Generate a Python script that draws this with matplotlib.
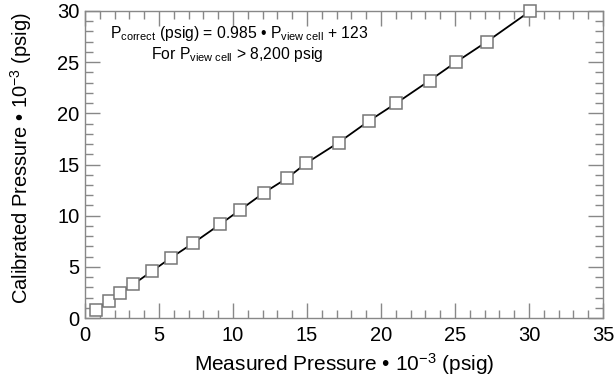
import numpy as np
import matplotlib
matplotlib.use("Agg")
import matplotlib.pyplot as plt
import matplotlib.transforms as mtransforms
from matplotlib.ticker import MultipleLocator

plt.rcParams["font.family"] = ["Liberation Sans", "DejaVu Sans"]
plt.rcParams["mathtext.fontset"] = "custom"
plt.rcParams["mathtext.rm"] = "Liberation Sans"
plt.rcParams["mathtext.it"] = "Liberation Sans:italic"

# measured vs calibrated pressure (x 10^-3 psig)
measured = [0.74, 1.60, 2.37, 3.26, 4.51, 5.81, 7.28, 9.13, 10.48, 12.10,
            13.64, 14.94, 17.13, 19.22, 21.03, 23.28, 25.06, 27.16, 30.09]
calibrated = [0.78, 1.69, 2.41, 3.29, 4.56, 5.89, 7.29, 9.16, 10.56, 12.25,
              13.65, 15.12, 17.14, 19.29, 20.99, 23.20, 25.00, 27.01, 30.00]

fig = plt.figure(figsize=(6.15, 3.79), dpi=100)
ax = fig.add_axes([0.1382, 0.1609, 0.8423, 0.8101])

ax.plot(measured, calibrated, "-", color="black", lw=1.3, zorder=2)
ax.plot(measured, calibrated, "s", ms=8, mfc="white", mec="#777777", mew=1.1,
        zorder=3, clip_on=False)

ax.set_xlim(0, 35)
ax.set_ylim(0, 30)
ax.xaxis.set_major_locator(MultipleLocator(5))
ax.xaxis.set_minor_locator(MultipleLocator(1))
ax.yaxis.set_major_locator(MultipleLocator(5))
ax.yaxis.set_minor_locator(MultipleLocator(1))
ax.tick_params(which="both", direction="in", top=True, right=True,
               color="#888888", width=1.0, labelsize=14.5)
ax.tick_params(which="major", length=10.5)
ax.tick_params(axis="x", which="major", pad=6)
ax.tick_params(axis="y", which="major", pad=4)
ax.tick_params(which="minor", length=5.5)
for s in ax.spines.values():
    s.set_color("#888888")
    s.set_linewidth(1.0)

# the y "0" label sits lower in the original
fig.canvas.draw()
ylabels = ax.get_yticklabels()
ylabels[0].set_transform(ylabels[0].get_transform()
                         + mtransforms.ScaledTranslation(0, -8 / 72, fig.dpi_scale_trans))

ax.set_xlabel("Measured Pressure • 10$^{-3}$ (psig)", fontsize=15, labelpad=4)
ax.set_ylabel("Calibrated Pressure • 10$^{-3}$ (psig)", fontsize=14.5)
ax.yaxis.set_label_coords(-0.098, 0.52)

ax.text(0.048, 0.928, "P$_{\\mathrm{correct}}$ (psig) = 0.985 • P$_{\\mathrm{view\\ cell}}$ + 123",
        transform=ax.transAxes, fontsize=11.3, ha="left", va="center")
ax.text(0.293, 0.857, "For P$_{\\mathrm{view\\ cell}}$ > 8,200 psig",
        transform=ax.transAxes, fontsize=11.3, ha="center", va="center")

plt.savefig("out.png", dpi=100)
